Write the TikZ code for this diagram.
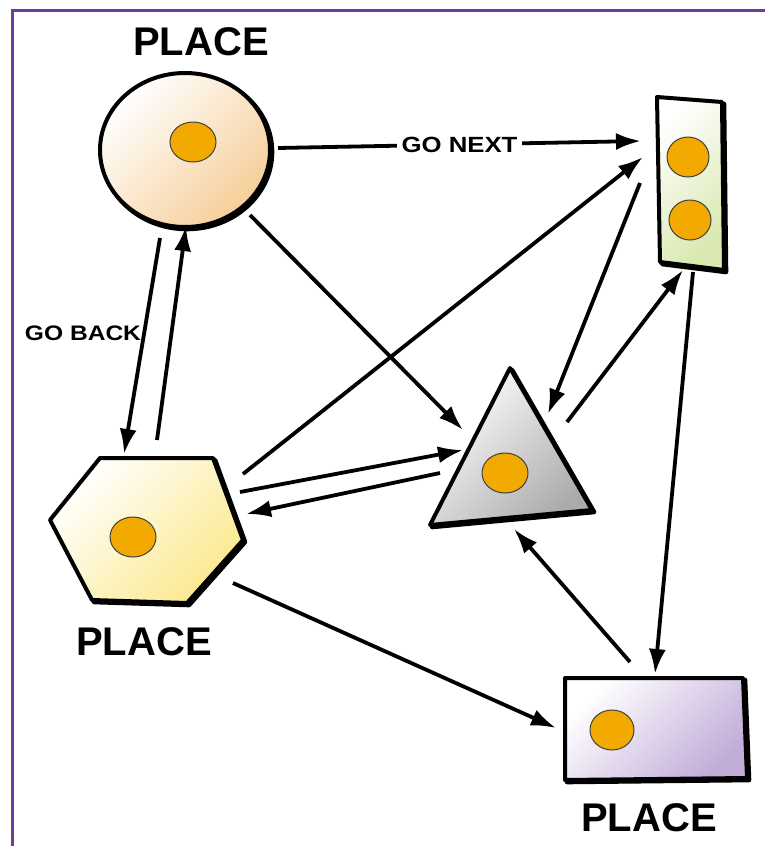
\documentclass[tikz,border=0pt]{standalone}
\usepackage{fontspec}
\setmainfont{Liberation Sans}
\newfontfamily\wideflow[FakeStretch=1.17]{Liberation Sans}
\usetikzlibrary{arrows.meta}
\definecolor{framepurple}{HTML}{6A3D9A}
\definecolor{token}{HTML}{F2A900}
\definecolor{peach}{HTML}{F6CE98}
\definecolor{leaf}{HTML}{D8E8AE}
\definecolor{stone}{HTML}{ABABAB}
\definecolor{butter}{HTML}{FBE98C}
\definecolor{lilac}{HTML}{C2ACD8}
\begin{document}
\begin{tikzpicture}[x=1pt,y=-1pt,
  outline/.style={draw=black,line width=4pt,line join=round},
  shadowline/.style={draw=black,line width=4.6pt,line join=round,shift={(2,2)}},
  tint/.style={shading=axis,top color=white,bottom color=#1,shading angle=45},
  tok/.style={fill=token,draw=black!75,line width=1pt},
  conn/.style={line width=3.8pt,-{Latex[length=25pt,width=17pt]}},
  placelabel/.style={font=\bfseries\fontsize{40}{40}\selectfont},
  flowlabel/.style={font=\wideflow\bfseries\fontsize{22}{22}\selectfont},
  edgelabel/.style={flowlabel,fill=white,inner sep=5pt}]
\useasboundingbox (0,0) rectangle (765,846);

% frame
\draw[framepurple,line width=3pt] (12,846) -- (12,10) -- (765,10);

% round place
\draw[shadowline] (185,150) ellipse [x radius=85,y radius=77];
\path[tint=peach,outline] (185,150) ellipse [x radius=85,y radius=77];
\draw[tok] (193,142) ellipse [x radius=23,y radius=20];
\node[placelabel] (lblA) at (201,42) {PLACE};

% tall green place
\draw[shadowline] (657,97) -- (722,102) -- (724,270) -- (660,262) -- cycle;
\path[tint=leaf,outline] (657,97) -- (722,102) -- (724,270) -- (660,262) -- cycle;
\draw[tok] (688,157) ellipse [x radius=21,y radius=20];
\draw[tok] (690,220) ellipse [x radius=21,y radius=20];

% triangle place
\draw[shadowline] (510,368) -- (592,510) -- (430,525) -- cycle;
\path[tint=stone,outline] (510,368) -- (592,510) -- (430,525) -- cycle;
\draw[tok] (505,473) ellipse [x radius=23,y radius=20];

% hexagon place
\draw[shadowline] (100,458) -- (213,458) -- (243,540) -- (187,603) -- (92,600) -- (50,520) -- cycle;
\path[tint=butter,outline] (100,458) -- (213,458) -- (243,540) -- (187,603) -- (92,600) -- (50,520) -- cycle;
\draw[tok] (133,537) ellipse [x radius=23,y radius=20];
\node[placelabel] (lblB) at (144,642) {PLACE};

% purple place
\draw[shadowline] (565,678) -- (743,678) -- (747,778) -- (565,780) -- cycle;
\path[tint=lilac,outline] (565,678) -- (743,678) -- (747,778) -- (565,780) -- cycle;
\draw[tok] (612,730) ellipse [x radius=22,y radius=20];
\node[placelabel] (lblC) at (649,818) {PLACE};

% connector ends
\coordinate (cA) at (278,148); \coordinate (gA) at (641,141);
\coordinate (cB) at (250,215); \coordinate (tA) at (463,430);
\coordinate (cC) at (160,238); \coordinate (hA) at (124,454);
\coordinate (hB) at (157,440); \coordinate (cD) at (186,226);
\coordinate (hC) at (243,474); \coordinate (gB) at (643,157);
\coordinate (hD) at (240,492); \coordinate (tB) at (463,450);
\coordinate (tC) at (440,473); \coordinate (hE) at (246,514);
\coordinate (hF) at (233,583); \coordinate (pA) at (556,728);
\coordinate (gC) at (640,183); \coordinate (tD) at (548,414);
\coordinate (tE) at (567,422); \coordinate (gD) at (683,270);
\coordinate (gE) at (693,272); \coordinate (pB) at (655,674);
\coordinate (pC) at (630,662); \coordinate (tF) at (514,529);

% connectors
\draw[conn] (cA) -- node[edgelabel] (lblNext) {GO NEXT} (gA);
\draw[conn] (cB) -- (tA);
\draw[conn] (cC) -- (hA);
\draw[conn] (hB) -- (cD);
\node[flowlabel,font=\wideflow\bfseries\fontsize{21}{21}\selectfont] (lblBack) at (83,333) {GO BACK};
\draw[conn] (hC) -- (gB);
\draw[conn] (hD) -- (tB);
\draw[conn] (tC) -- (hE);
\draw[conn] (hF) -- (pA);
\draw[conn] (gC) -- (tD);
\draw[conn] (tE) -- (gD);
\draw[conn] (gE) -- (pB);
\draw[conn] (pC) -- (tF);
\end{tikzpicture}
\end{document}
